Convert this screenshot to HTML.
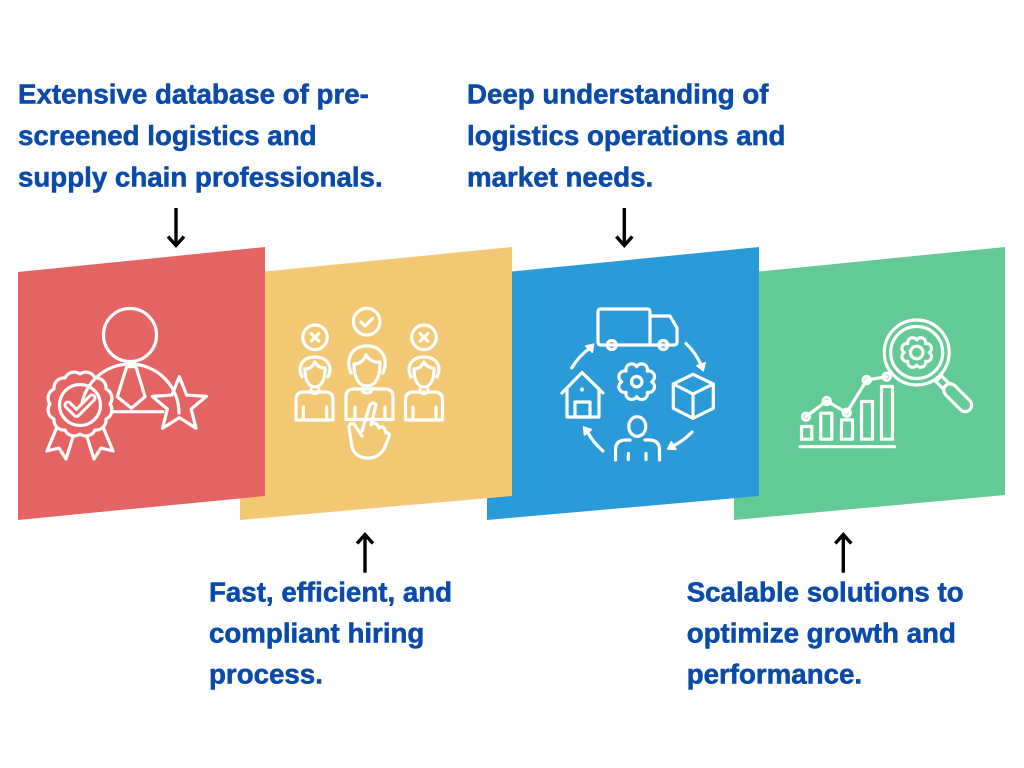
<!DOCTYPE html>
<html>
<head>
<meta charset="utf-8">
<style>
html,body{margin:0;padding:0;background:#fff;}
svg{display:block;}
.t{font-family:"Liberation Sans",Arial,sans-serif;font-weight:bold;font-size:27.7px;fill:#0a4ba9;stroke:#0a4ba9;stroke-width:0.55px;}
.w{fill:none;stroke:#fff;stroke-width:3.2;stroke-linecap:round;stroke-linejoin:round;}
.k{fill:none;stroke:#000;stroke-width:3.4;}
</style>
</head>
<body>
<svg width="1024" height="768" viewBox="0 0 1024 768" xmlns="http://www.w3.org/2000/svg">
<rect width="1024" height="768" fill="#fff"/>

<!-- Panels (back to front) -->
<polygon points="734,274 1005,247 1005,495 734,520" fill="#63c995"/>
<polygon points="487,274 759,247 759,496 487,520" fill="#2a9bd8"/>
<polygon points="240,274 512,247 512,496 240,520" fill="#f2c875"/>
<polygon points="18,272 265,247 265,496 18,520" fill="#e46464"/>

<!-- Texts -->
<text class="t" x="18" y="103.3">Extensive database of pre-</text>
<text class="t" x="18" y="145">screened logistics and</text>
<text class="t" x="18" y="186.5">supply chain professionals.</text>

<text class="t" x="467" y="103.3">Deep understanding of</text>
<text class="t" x="467" y="145">logistics operations and</text>
<text class="t" x="467" y="186.5">market needs.</text>

<text class="t" x="209" y="601.7">Fast, efficient, and</text>
<text class="t" x="209" y="642.5">compliant hiring</text>
<text class="t" x="209" y="683.5">process.</text>

<text class="t" x="686.7" y="601.7">Scalable solutions to</text>
<text class="t" x="686.7" y="642.5">optimize growth and</text>
<text class="t" x="686.7" y="683.5">performance.</text>

<!-- Arrows -->
<line class="k" x1="176" y1="208" x2="176" y2="245"/>
<polyline class="k" points="168,236.5 176,245.5 184,236.5"/>
<line class="k" x1="624.3" y1="208" x2="624.3" y2="245"/>
<polyline class="k" points="616.3,236.5 624.3,245.5 632.3,236.5"/>
<line class="k" x1="365" y1="535" x2="365" y2="572.7"/>
<polyline class="k" points="357,543.5 365,534.5 373,543.5"/>
<line class="k" x1="843.3" y1="535" x2="843.3" y2="572.7"/>
<polyline class="k" points="835.3,543.5 843.3,534.5 851.3,543.5"/>

<!-- RED ICON -->
<g>
  <circle class="w" cx="130" cy="335" r="26.5"/>
  <path class="w" d="M 81 413 A 49 49 0 0 1 179 413"/>
  <line class="w" x1="112" y1="411.7" x2="163" y2="411.7"/>
  <path class="w" d="M 126.7 366.7 L 136 366.7 L 145 396.7 L 131.5 408.3 L 117.3 396.7 Z" fill="#e46464"/>
  <!-- ribbons -->
  <path class="w" d="M 57 427 L 47 451 L 59 448 L 66 459 L 73 437" fill="#e46464"/>
  <path class="w" d="M 103 427 L 113 451 L 101 448 L 94 459 L 87 437" fill="#e46464"/>
  <!-- medal -->
  <path class="w" fill="#e46464" d="M 110 404 A 10 10 0 0 1 105.98 419 A 10 10 0 0 1 95 429.98 A 10 10 0 0 1 80 434 A 10 10 0 0 1 65 429.98 A 10 10 0 0 1 54.02 419 A 10 10 0 0 1 50 404 A 10 10 0 0 1 54.02 389 A 10 10 0 0 1 65 378.02 A 10 10 0 0 1 80 374 A 10 10 0 0 1 95 378.02 A 10 10 0 0 1 105.98 389 A 10 10 0 0 1 110 404 Z"/>
  <circle class="w" cx="80" cy="405" r="20.5"/>
  <polyline points="68,405 76.5,413.5 92,398" fill="none" stroke="#fff" stroke-width="9" stroke-linecap="round" stroke-linejoin="round"/>
  <polyline points="68,405 76.5,413.5 92,398" fill="none" stroke="#e46464" stroke-width="3" stroke-linecap="round" stroke-linejoin="round"/>
  <!-- star -->
  <polygon class="w" fill="#e46464" points="179.3,376.7 186.65,395.09 206.4,396.4 191.19,409.06 196.05,428.26 179.3,417.7 162.55,428.26 167.41,409.06 152.2,396.4 171.95,395.09"/>
</g>

<!-- YELLOW ICON -->
<g>
  <!-- left person -->
  <circle class="w" cx="315" cy="337.3" r="12.3"/>
  <path class="w" d="M 311.2 333.5 L 318.8 341.1 M 318.8 333.5 L 311.2 341.1"/>
  <path class="w" d="M 302 377 C 297 367, 302 357, 315 357 C 328 357, 333 367, 328 377"/>
  <path class="w" d="M 305 369 C 305 382, 310 387, 315 387 C 320 387, 325 382, 325 369"/>
  <path class="w" d="M 305 369 C 310 369, 313 366, 315 362 C 317 366, 320 368, 325 368"/>
  <path class="w" d="M 311 389.5 Q 311 393.5 315 393.5 Q 319 393.5 319 389.5"/>
  <path class="w" d="M 296 420 L 296 400 Q 296 392 304 392 L 325 392 Q 333 392 333 400 L 333 420 Z"/>
  <path class="w" d="M 303.3 407 L 303.3 420 M 326.7 407 L 326.7 420"/>
  <!-- right person -->
  <circle class="w" cx="424" cy="337.3" r="12.3"/>
  <path class="w" d="M 420.2 333.5 L 427.8 341.1 M 427.8 333.5 L 420.2 341.1"/>
  <path class="w" d="M 411 377 C 406 367, 411 357, 424 357 C 437 357, 442 367, 437 377"/>
  <path class="w" d="M 414 369 C 414 382, 419 387, 424 387 C 429 387, 434 382, 434 369"/>
  <path class="w" d="M 414 369 C 419 369, 422 366, 424 362 C 426 366, 429 368, 434 368"/>
  <path class="w" d="M 420 389.5 Q 420 393.5 424 393.5 Q 428 393.5 428 389.5"/>
  <path class="w" d="M 405.5 420 L 405.5 400 Q 405.5 392 413.5 392 L 434.5 392 Q 442.5 392 442.5 400 L 442.5 420 Z"/>
  <path class="w" d="M 413 407 L 413 420 M 436 407 L 436 420"/>
  <!-- middle person -->
  <circle class="w" cx="366.7" cy="321.7" r="13.3"/>
  <polyline class="w" points="361,322 365,326 372.5,318.5"/>
  <path class="w" d="M 351 373 C 345 359, 352 346, 367 346 C 382 346, 389 359, 383 373"/>
  <path class="w" d="M 354 364 C 354 380, 360 386, 367 386 C 374 386, 380 380, 380 364"/>
  <path class="w" d="M 354 364 C 360 364, 364 360, 366 355 C 369 360, 374 363, 380 362"/>
  <path class="w" d="M 362 388.5 Q 362 393 367 393 Q 372 393 372 388.5"/>
  <path class="w" d="M 346 419.5 L 346 397 Q 346 389 354 389 L 385 389 Q 393 389 393 397 L 393 419.5 Z"/>
  <path class="w" d="M 355 407 L 355 419.5 M 385 407 L 385 419.5"/>
  <!-- hand -->
  <path class="w" fill="#f2c875" d="M 362 431 L 369.5 406 Q 372 401 376 404.5 L 371 425 Q 375 421 378 426 L 379 428 Q 383 425 385 430 L 386 433 Q 390 432 389 437 L 384 449 Q 378 459 366 458 Q 355 457 352 447 L 349 428 Q 349 422 354 424 L 362 436"/>
</g>

<!-- BLUE ICON -->
<g>
  <!-- truck -->
  <path class="w" d="M 601 309 L 647 309 Q 650 309 650 312 L 650 345 L 601 345 Q 598 345 598 342 L 598 312 Q 598 309 601 309 Z"/>
  <path class="w" d="M 650 316 L 670 316 L 677 328 L 677 342 Q 677 345 674 345 L 650 345"/>
  <circle class="w" cx="611.7" cy="345" r="4.5" fill="#2a9bd8"/>
  <circle class="w" cx="663.3" cy="345" r="4.5" fill="#2a9bd8"/>
  <!-- gear: base r 15, semicircular teeth -->
  <path class="w" d="M 651.7 381.7 A 5.8 5.8 0 0 1 647.31 392.31 A 5.8 5.8 0 0 1 636.7 396.7 A 5.8 5.8 0 0 1 626.09 392.31 A 5.8 5.8 0 0 1 621.7 381.7 A 5.8 5.8 0 0 1 626.09 371.09 A 5.8 5.8 0 0 1 636.7 366.7 A 5.8 5.8 0 0 1 647.31 371.09 A 5.8 5.8 0 0 1 651.7 381.7 Z"/>
  <circle class="w" cx="636.7" cy="381.7" r="5.2"/>
  <!-- house -->
  <path class="w" d="M 562 393 L 582 372.5 L 603 393"/>
  <path class="w" d="M 567 389 L 567 417 L 599 417 L 599 389"/>
  <rect class="w" x="575" y="402" width="15" height="15"/>
  <circle cx="582" cy="389.5" r="2" fill="#fff"/>
  <!-- cube -->
  <polygon class="w" points="693,374.3 713.3,384 713.3,408.3 693,418.3 673.3,408.3 673.3,384"/>
  <path class="w" d="M 673.3 384 L 693 394 L 713.3 384 M 693 394 L 693 418.3"/>
  <!-- person -->
  <ellipse class="w" cx="637.3" cy="426.5" rx="8.5" ry="9.8"/>
  <path class="w" d="M 615.5 460 L 615.5 450 Q 615.5 440 626 440 L 630 440 M 645 440 L 649 440 Q 659.5 440 659.5 450 L 659.5 460"/>
  <path class="w" d="M 628.3 453.5 L 628.3 459.5 M 646 453.5 L 646 459.5"/>
  <!-- cycle arrows -->
  <path class="w" d="M 571.7 368 A 66 66 0 0 1 590 348"/>
  <polygon points="593.7,344.1 592.3,352.3 585.7,346.1" fill="#fff" stroke="#fff" stroke-width="1.5" stroke-linejoin="round"/>
  <path class="w" d="M 686 343.5 A 66 66 0 0 1 701.5 366"/>
  <polygon points="703.3,370.8 696.8,365.7 705.2,362.7" fill="#fff" stroke="#fff" stroke-width="1.5" stroke-linejoin="round"/>
  <path class="w" d="M 692 432 A 66 66 0 0 1 672 446.5"/>
  <polygon points="667.6,449 671.3,441.6 675.9,449.4" fill="#fff" stroke="#fff" stroke-width="1.5" stroke-linejoin="round"/>
  <path class="w" d="M 603 451 A 66 66 0 0 1 587 431"/>
  <polygon points="583.5,426.9 591.4,429.6 584.4,435.2" fill="#fff" stroke="#fff" stroke-width="1.5" stroke-linejoin="round"/>
</g>

<!-- GREEN ICON -->
<g>
  <line class="w" x1="800" y1="446.7" x2="894.5" y2="446.7"/>
  <rect class="w" x="801.5" y="426.5" width="10.3" height="12.7"/>
  <rect class="w" x="820.8" y="413.2" width="11" height="26"/>
  <rect class="w" x="841.5" y="419.8" width="11" height="19.4"/>
  <rect class="w" x="861.5" y="401.5" width="11" height="37.7"/>
  <rect class="w" x="881.5" y="386.5" width="11" height="52.7"/>
  <polyline class="w" points="806,416.7 826.7,401 846.7,412.7 866.7,380 886.7,376.7"/>
  <circle class="w" cx="806" cy="416.7" r="3.6" fill="#63c995"/>
  <circle class="w" cx="826.7" cy="401" r="3.6" fill="#63c995"/>
  <circle class="w" cx="846.7" cy="412.7" r="3.6" fill="#63c995"/>
  <circle class="w" cx="866.7" cy="380" r="3.6" fill="#63c995"/>
  <circle class="w" cx="886.7" cy="376.7" r="3.6" fill="#63c995"/>
  <!-- handle -->
  <g transform="translate(940 380) rotate(45)">
    <rect class="w" x="-2" y="-4" width="10" height="8" fill="#63c995"/>
    <rect class="w" x="8" y="-6.5" width="34" height="13" rx="6.5" fill="#63c995"/>
  </g>
  <circle class="w" cx="916.7" cy="352.5" r="32.5" fill="#63c995"/>
  <circle class="w" cx="916.7" cy="352.5" r="26"/>
  <!-- gear: base r 12.5 -->
  <path class="w" d="M 929.2 352.5 A 4.85 4.85 0 0 1 925.54 361.34 A 4.85 4.85 0 0 1 916.7 365 A 4.85 4.85 0 0 1 907.86 361.34 A 4.85 4.85 0 0 1 904.2 352.5 A 4.85 4.85 0 0 1 907.86 343.66 A 4.85 4.85 0 0 1 916.7 340 A 4.85 4.85 0 0 1 925.54 343.66 A 4.85 4.85 0 0 1 929.2 352.5 Z"/>
  <circle class="w" cx="916.7" cy="352.5" r="6.3"/>
</g>
</svg>
</body>
</html>
